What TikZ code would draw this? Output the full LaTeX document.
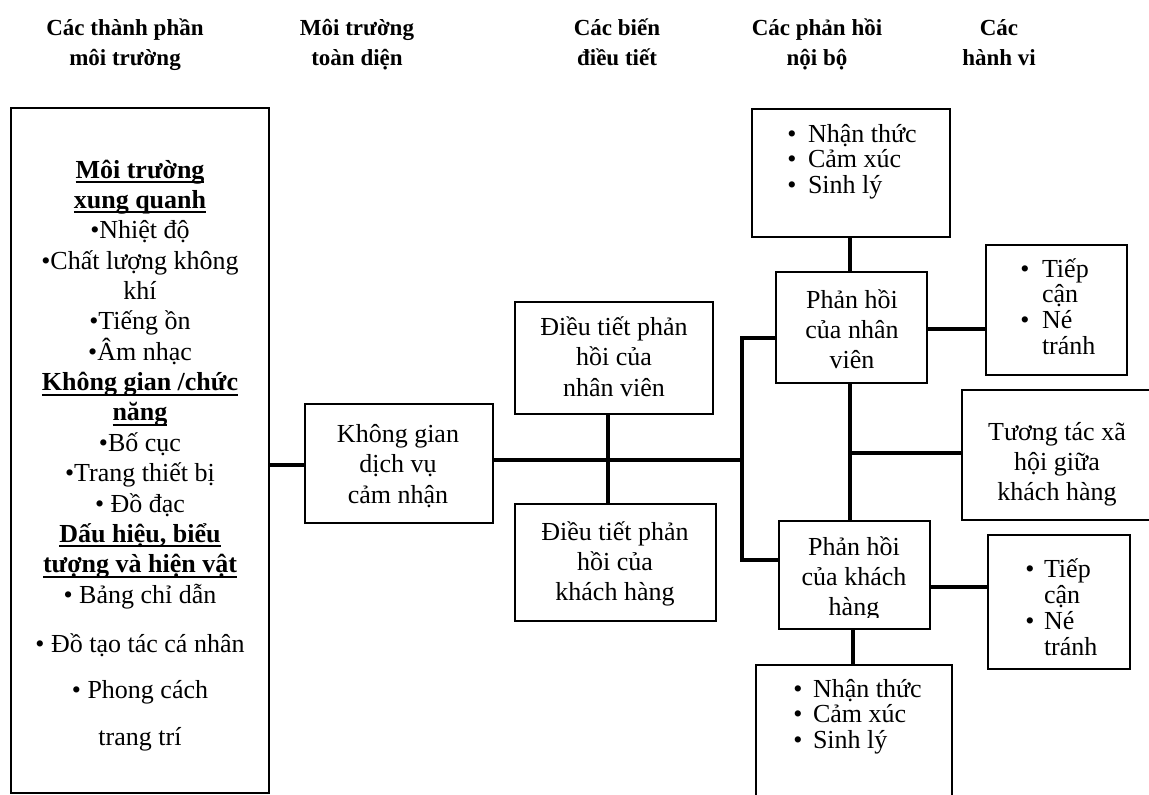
\documentclass[tikz,border=0pt]{standalone}
\usepackage{fontspec}
\setmainfont{Liberation Serif}
\newcommand\myul[1]{\setbox0\hbox{#1}\rlap{\rule[-5pt]{\wd0}{2pt}}\box0}
\begin{document}
\begin{tikzpicture}[x=1pt,y=-1pt,
  box/.style={draw, line width=2pt, inner sep=0pt, outer sep=0pt},
  conn/.style={line width=3.8pt, line join=miter},
  txt/.style={anchor=base, inner sep=0pt, outer sep=0pt, font=\fontsize{26}{30}\selectfont},
  txtw/.style={anchor=base west, inner sep=0pt, outer sep=0pt, font=\fontsize{26}{30}\selectfont},
  btxt/.style={anchor=base, inner sep=0pt, outer sep=0pt, font=\fontsize{26}{30}\selectfont\bfseries},
  hdr/.style={anchor=base, inner sep=0pt, outer sep=0pt, font=\fontsize{23}{28}\selectfont\bfseries}]
\useasboundingbox (0,0) rectangle (1149,795);
\clip (0,0) rectangle (1149,795);

% headers
\node[hdr] (h1a) at (125,35) {Các thành phần};
\node[hdr] (h1b) at (125,65) {môi trường};
\node[hdr] (h2a) at (357,35) {Môi trường};
\node[hdr] (h2b) at (357,65) {toàn diện};
\node[hdr] (h3a) at (617,35) {Các biến};
\node[hdr] (h3b) at (617,65) {điều tiết};
\node[hdr] (h4a) at (817,35) {Các phản hồi};
\node[hdr] (h4b) at (817,65) {nội bộ};
\node[hdr] (h5a) at (999,35) {Các};
\node[hdr] (h5b) at (999,65) {hành vi};

% boxes
\node[box, minimum width=258, minimum height=685] (L) at (140,450.5) {};
\node[box, minimum width=188, minimum height=119] (KG) at (399,463.5) {};
\node[box, minimum width=198, minimum height=112] (DT1) at (614,358) {};
\node[box, minimum width=201, minimum height=117] (DT2) at (615.5,562.5) {};
\node[box, minimum width=198, minimum height=128] (NT1) at (851,173) {};
\node[box, minimum width=151, minimum height=111] (NV) at (851.5,327.5) {};
\node[box, minimum width=141, minimum height=130] (TC1) at (1056.5,310) {};
\node[box, minimum width=198, minimum height=130] (TT) at (1061,455) {};
\node[box, minimum width=151, minimum height=108] (NK) at (854.5,575) {};
\node[box, minimum width=142, minimum height=134] (TC2) at (1059,602) {};
\node[box, minimum width=196, minimum height=150] (NT2) at (854,740) {};

% connectors
\coordinate (jl) at (0,465);
\coordinate (bm) at (742,460);
\coordinate (jd) at (608,460);
\coordinate (b1) at (742,338);
\coordinate (b2) at (742,560);
\coordinate (xnv) at (850,0);
\coordinate (xnk) at (853,0);
\coordinate (jt) at (850,453);
\coordinate (r1) at (0,329);
\coordinate (r2) at (0,587);
\draw[conn] (L.east |- jl) -- (KG.west |- jl);
\draw[conn] (KG.east |- bm) -- (bm);
\draw[conn] (DT1.south -| jd) -- (DT2.north -| jd);
\draw[conn] (NV.west |- b1) -- (b1) -- (b2) -- (NK.west |- b2);
\draw[conn] (NT1.south -| xnv) -- (NV.north -| xnv);
\draw[conn] (NV.south -| xnv) -- (NK.north -| xnv);
\draw[conn] (jt) -- (TT.west |- jt);
\draw[conn] (NV.east |- r1) -- (TC1.west |- r1);
\draw[conn] (NK.east |- r2) -- (TC2.west |- r2);
\draw[conn] (NK.south -| xnk) -- (NT2.north -| xnk);

% left box text
\node[btxt] (l1) at (140,178) {\myul{Môi trường}};
\node[btxt] (l2) at (140,208.4) {\myul{xung quanh}};
\node[txt] (l3) at (140,238.7) {•Nhiệt độ};
\node[txt] (l4) at (140,269.1) {•Chất lượng không};
\node[txt] (l5) at (140,299.4) {khí};
\node[txt] (l6) at (140,329.8) {•Tiếng ồn};
\node[txt] (l7) at (140,360.2) {•Âm nhạc};
\node[btxt] (l8) at (140,390.5) {\myul{Không gian /chức}};
\node[btxt] (l9) at (140,420.9) {\myul{năng}};
\node[txt] (l10) at (140,451.2) {•Bố cục};
\node[txt] (l11) at (140,481.6) {•Trang thiết bị};
\node[txt] (l12) at (140,512) {• Đồ đạc};
\node[btxt] (l13) at (140,542.3) {\myul{Dấu hiệu, biểu}};
\node[btxt] (l14) at (140,572.7) {\myul{tượng và hiện vật}};
\node[txt] (l15) at (140,603) {• Bảng chỉ dẫn};
\node[txt] (l16) at (140,652) {• Đồ tạo tác cá nhân};
\node[txt] (l17) at (140,698) {• Phong cách};
\node[txt] (l18) at (140,745) {trang trí};

% Không gian dịch vụ cảm nhận
\node[txt] (kg1) at (398,442) {Không gian};
\node[txt] (kg2) at (398,472.5) {dịch vụ};
\node[txt] (kg3) at (398,503) {cảm nhận};

% Điều tiết
\node[txt] (d11) at (614,335) {Điều tiết phản};
\node[txt] (d12) at (614,365.5) {hồi của};
\node[txt] (d13) at (614,396) {nhân viên};
\node[txt] (d21) at (615,540) {Điều tiết phản};
\node[txt] (d22) at (615,570) {hồi của};
\node[txt] (d23) at (615,600) {khách hàng};

% Nhận thức top
\node[txt] (n1b1) at (792,142) {•};
\node[txtw] (n1t1) at (808,142) {Nhận thức};
\node[txt] (n1b2) at (792,167.5) {•};
\node[txtw] (n1t2) at (808,167.5) {Cảm xúc};
\node[txt] (n1b3) at (792,193) {•};
\node[txtw] (n1t3) at (808,193) {Sinh lý};

% Phản hồi của nhân viên
\node[txt] (nv1) at (852,308) {Phản hồi};
\node[txt] (nv2) at (852,338) {của nhân};
\node[txt] (nv3) at (852,368) {viên};

% Tiếp cận top
\node[txt] (t1b1) at (1025,277) {•};
\node[txtw] (t1t1) at (1042,277) {Tiếp};
\node[txtw] (t1t2) at (1042,302.5) {cận};
\node[txt] (t1b3) at (1025,328) {•};
\node[txtw] (t1t3) at (1042,328) {Né};
\node[txtw] (t1t4) at (1042,354) {tránh};

% Tương tác
\node[txt] (tt1) at (1057,440) {Tương tác xã};
\node[txt] (tt2) at (1057,470) {hội giữa};
\node[txt] (tt3) at (1057,500) {khách hàng};

% Phản hồi của khách hàng (last line clipped)
\begin{scope}
\clip (779,521) rectangle (930,617);
\node[txt] (nk1) at (854,555) {Phản hồi};
\node[txt] (nk2) at (854,585) {của khách};
\node[txt] (nk3) at (854,615) {hàng};
\end{scope}

% Tiếp cận bottom
\node[txt] (t2b1) at (1030,577) {•};
\node[txtw] (t2t1) at (1044,577) {Tiếp};
\node[txtw] (t2t2) at (1044,603) {cận};
\node[txt] (t2b3) at (1030,629) {•};
\node[txtw] (t2t3) at (1044,629) {Né};
\node[txtw] (t2t4) at (1044,655) {tránh};

% Nhận thức bottom
\node[txt] (n2b1) at (798,697) {•};
\node[txtw] (n2t1) at (813,697) {Nhận thức};
\node[txt] (n2b2) at (798,722.5) {•};
\node[txtw] (n2t2) at (813,722.5) {Cảm xúc};
\node[txt] (n2b3) at (798,748) {•};
\node[txtw] (n2t3) at (813,748) {Sinh lý};
\end{tikzpicture}
\end{document}
